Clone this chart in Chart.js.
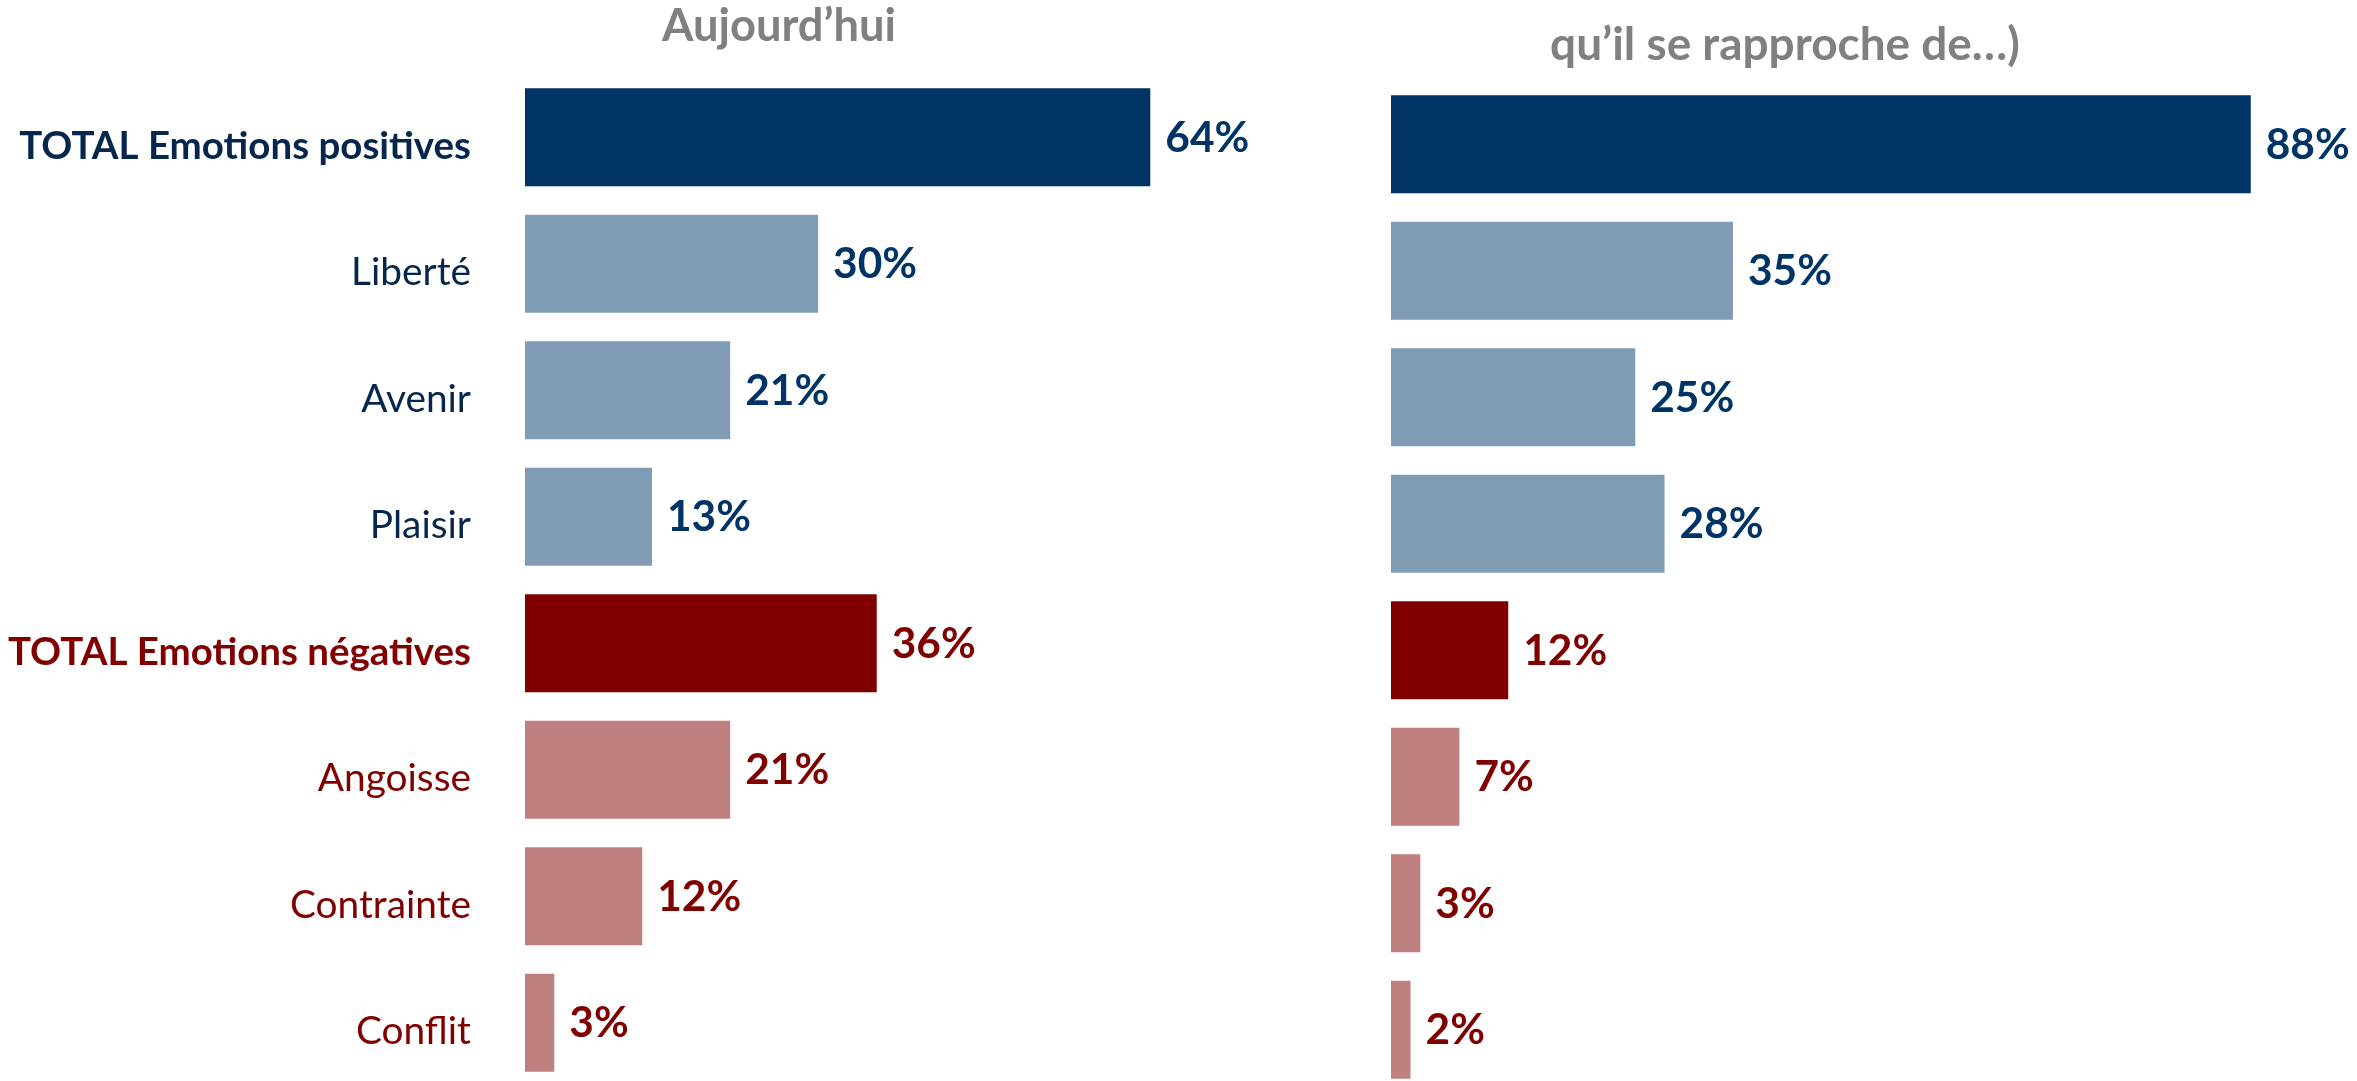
<!DOCTYPE html>
<html>
<head>
<meta charset="utf-8">
<script src="https://cdn.jsdelivr.net/npm/chart.js@4.4.1/dist/chart.umd.min.js"></script>
<style>
  html, body { margin: 0; padding: 0; background: #ffffff; overflow: hidden; width: 2357px; height: 1081px; }
  canvas { position: absolute; top: 0; }
  #left { left: 0; }
  #right { left: 1391px; }
</style>
</head>
<body>
<canvas id="left" width="1560" height="1090"></canvas>
<canvas id="right" width="977" height="1095"></canvas>
<script>
// ---- data ----
const categories = ['TOTAL Emotions positives', 'Liberté', 'Avenir', 'Plaisir',
                    'TOTAL Emotions négatives', 'Angoisse', 'Contrainte', 'Conflit'];
const todayValues = [64, 30, 21, 13, 36, 21, 12, 3];
const futureValues = [88, 35, 25, 28, 12, 7, 3, 2];
const leftTitle = 'Aujourd’hui';
const rightTitle = 'qu’il se rapproche de…)';

// ---- styles ----
const FAMILY = 'Lato, "Open Sans", sans-serif';
const barColors = ['#003366', '#809cb4', '#809cb4', '#809cb4', '#800000', '#c08080', '#c08080', '#c08080'];
const textColors = ['#003366', '#003366', '#003366', '#003366', '#800000', '#800000', '#800000', '#800000'];
const labelColors = ['#06264d', '#06264d', '#06264d', '#06264d', '#800000', '#800000', '#800000', '#800000'];
const isTotal = [true, false, false, false, true, false, false, false];

function fitSize(text, weight, target) {
  const c = document.createElement('canvas').getContext('2d');
  c.font = weight + ' 100px ' + FAMILY;
  return 100 * target / c.measureText(text).width;
}
const boldLabelSize = fitSize('TOTAL Emotions positives', 'bold', 452);
const regLabelSize = fitSize('Liberté', 'normal', 120);
const valueSize = fitSize('30%', 'bold', 84);
const titleSizeL = fitSize(leftTitle, 'bold', 234);
const titleSizeR = fitSize(rightTitle, 'bold', 470);

function valueLabels(colorList) {
  return {
    id: 'valueLabels',
    afterDatasetsDraw(chart) {
      const ctx = chart.ctx;
      const meta = chart.getDatasetMeta(0);
      ctx.save();
      ctx.font = 'bold ' + valueSize + 'px ' + FAMILY;
      ctx.textAlign = 'left';
      ctx.textBaseline = 'middle';
      meta.data.forEach((bar, i) => {
        ctx.fillStyle = colorList[i];
        ctx.fillText(chart.data.datasets[0].data[i] + '%', bar.x + 15, bar.y + 1);
      });
      ctx.restore();
    }
  };
}

function titleText(text, size, x, baseline) {
  return {
    id: 'panelTitle',
    afterDraw(chart) {
      const ctx = chart.ctx;
      ctx.save();
      ctx.font = 'bold ' + size + 'px ' + FAMILY;
      ctx.fillStyle = '#808080';
      ctx.textAlign = 'center';
      ctx.textBaseline = 'alphabetic';
      ctx.fillText(text, x, baseline);
      ctx.restore();
    }
  };
}

function baseOptions(top, bottom, right, showY) {
  return {
    indexAxis: 'y',
    responsive: false,
    animation: false,
    layout: { padding: { top: top, bottom: bottom, left: 0, right: right } },
    plugins: { legend: { display: false }, tooltip: { enabled: false }, title: { display: false } },
    scales: {
      x: { display: false, min: 0, max: 100 },
      y: {
        display: showY,
        grid: { display: false, drawTicks: false },
        border: { display: false },
        afterFit(scale) {
          if (showY) scale.width = 525;
          scale.paddingTop = 0;
          scale.paddingBottom = 0;
        },
        ticks: {
          padding: 54,
          labelOffset: 9,
          color: (c) => labelColors[c.index],
          font: (c) => isTotal[c.index]
            ? { family: FAMILY, size: boldLabelSize, weight: 'bold' }
            : { family: FAMILY, size: regLabelSize, weight: 'normal' }
        }
      }
    }
  };
}

new Chart(document.getElementById('left'), {
  type: 'bar',
  data: {
    labels: categories,
    datasets: [{ data: todayValues, backgroundColor: barColors, borderWidth: 0,
                 categoryPercentage: 1, barPercentage: 0.775 }]
  },
  options: baseOptions(74, 4, 58, true),
  plugins: [valueLabels(textColors), titleText(leftTitle, titleSizeL, 779, 41)]
});

new Chart(document.getElementById('right'), {
  type: 'bar',
  data: {
    labels: categories,
    datasets: [{ data: futureValues, backgroundColor: barColors, borderWidth: 0,
                 categoryPercentage: 1, barPercentage: 0.775 }]
  },
  options: baseOptions(81, 2, 0, false),
  plugins: [valueLabels(textColors), titleText(rightTitle, titleSizeR, 1785 - 1391, 60)]
});
</script>
</body>
</html>
